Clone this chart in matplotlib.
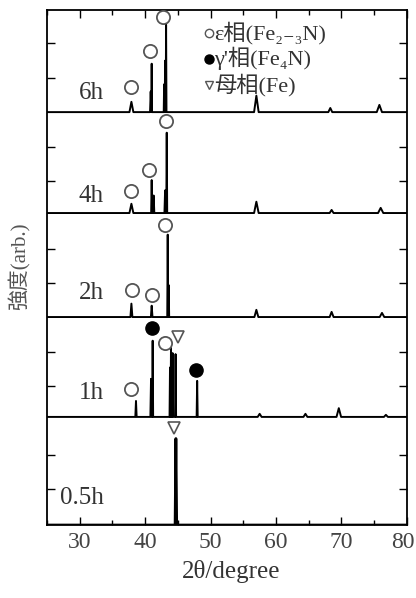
import numpy as np
import matplotlib
matplotlib.use('Agg')
import matplotlib.pyplot as plt
import matplotlib.transforms as mtransforms
from matplotlib.ticker import MultipleLocator

plt.rcParams['font.family'] = ['Liberation Serif', 'Noto Sans CJK JP', 'DejaVu Sans']

# peak lists: position (2theta), height (panel units), half width (deg)
pos_6h = [37.9, 40.85, 41.0, 42.9, 43.05, 43.2, 57.0, 68.3, 75.8]
h_6h = [0.10, 0.20, 0.47, 0.27, 0.50, 0.85, 0.16, 0.04, 0.07]
w_6h = [0.30, 0.10, 0.05, 0.06, 0.06, 0.06, 0.35, 0.30, 0.40]

pos_4h = [37.9, 41.0, 41.3, 43.05, 43.3, 57.0, 68.5, 76.0]
h_4h = [0.09, 0.32, 0.17, 0.22, 0.78, 0.11, 0.03, 0.05]
w_4h = [0.30, 0.08, 0.10, 0.10, 0.07, 0.35, 0.30, 0.40]

pos_2h = [37.9, 41.0, 43.45, 43.6, 57.0, 68.5, 76.2]
h_2h = [0.13, 0.11, 0.80, 0.31, 0.07, 0.05, 0.04]
w_2h = [0.15, 0.12, 0.07, 0.07, 0.30, 0.30, 0.35]

pos_1h = [38.6, 40.9, 41.15, 43.8, 43.95, 44.2, 44.65, 47.95, 57.5, 64.5, 69.6, 76.8]
h_1h = [0.155, 0.37, 0.74, 0.48, 0.67, 0.62, 0.61, 0.35, 0.03, 0.03, 0.085, 0.02]
w_1h = [0.10, 0.10, 0.07, 0.07, 0.07, 0.07, 0.08, 0.08, 0.30, 0.30, 0.35, 0.30]

pos_05h = [44.7]
h_05h = [0.84]
w_05h = [0.12]

times = ['0.5h', '1h', '2h', '4h', '6h']
bases = [0.0, 1.05, 2.02, 3.03, 4.01]
label_y = [0.26, 1.28, 2.25, 3.20, 4.20]

# phase markers: (2theta, y)
eps_x = [37.9, 40.75, 42.8, 37.8, 40.55, 43.2, 38.05, 41.0, 43.1, 37.9, 43.0]
eps_y = [4.25, 4.60, 4.93, 3.24, 3.45, 3.92, 2.28, 2.23, 2.91, 1.32, 1.77]
gam_x = [41.1, 47.8]
gam_y = [1.915, 1.51]
fe_x = [45.05, 44.4]
fe_y = [1.825, 0.94]

legend_txt = ['ε相(Fe₂₋₃N)', "γ'相(Fe₄N)", '母相(Fe)']


#build a trace as a polyline of spikes on its baseline
def make_trace(pos, h, w, base):
    xs = [25.0]
    ys = [base]
    for p, hh, ww in sorted(zip(pos, h, w)):
        xs += [p - ww, p, p + ww]
        ys += [base, base + hh, base]
    xs.append(80.0)
    ys.append(base)
    return xs, ys
#END_OF_MAKE_TRACE

fig = plt.figure(figsize=(4.16, 5.98), dpi=100)
ax = fig.add_axes([0.113, 0.122, 0.865, 0.861])

peaks = [(pos_05h, h_05h, w_05h), (pos_1h, h_1h, w_1h), (pos_2h, h_2h, w_2h),
         (pos_4h, h_4h, w_4h), (pos_6h, h_6h, w_6h)]
for i, (p, h, w) in enumerate(peaks):
    xs, ys = make_trace(p, h, w, bases[i])
    lw = 2.0 if i == 0 else 1.4
    ax.plot(xs, ys, color='black', lw=lw, zorder=2)
    ax.text(33.7, label_y[i], times[i], ha='right', va='center', fontsize=18, color='#333333')

ax.plot(eps_x, eps_y, 'o', ms=9.5, mfc='white', mec='#555555', mew=1.3, zorder=3)
ax.plot(gam_x, gam_y, 'o', ms=9.5, mfc='black', mec='black', zorder=3)
ax.plot(fe_x, fe_y, 'v', ms=8.5, mfc='white', mec='#555555', mew=1.2, zorder=3)

#legend drawn by hand
leg_y = [4.78, 4.53, 4.27]
ax.plot([49.7], [leg_y[0]], 'o', ms=6, mfc='white', mec='#555555', mew=1.0)
ax.plot([49.7], [leg_y[1]], 'o', ms=6.5, mfc='black', mec='black')
ax.plot([49.7], [leg_y[2]], 'v', ms=6, mfc='white', mec='#555555', mew=1.0)
for k in range(3):
    ax.text(50.5, leg_y[k], legend_txt[k], ha='left', va='center', fontsize=16, color='#333333')

ax.set_xlim(25, 80)
ax.set_ylim(0, 5)
ax.set_xticks([30, 40, 50, 60, 70, 80])
ax.xaxis.set_minor_locator(MultipleLocator(5))
ax.set_yticks([0.35, 0.68, 1.35, 1.68, 2.35, 2.68, 3.34, 3.67, 4.34, 4.68])
ax.set_yticklabels([])
ax.tick_params(which='major', direction='in', top=True, right=True, length=6, width=1.0,
               labelsize=17, labelcolor='#444444', pad=5)
ax.tick_params(which='minor', direction='in', top=True, right=True, length=3.5, width=1.0)
for s in ax.spines.values():
    s.set_linewidth(1.3)

#nudge the last tick label so it stays inside the figure
last = ax.get_xticklabels()[-1]
last.set_transform(last.get_transform() + mtransforms.ScaledTranslation(-4 / 100, 0, fig.dpi_scale_trans))

fig.text(0.555, 0.025, '2θ/degree', ha='center', va='bottom', fontsize=18, color='#333333')
fig.text(0.048, 0.555, '強度(arb.)', ha='center', va='center', rotation=90, fontsize=15, color='#555555')

fig.savefig('out.png', dpi=100)
